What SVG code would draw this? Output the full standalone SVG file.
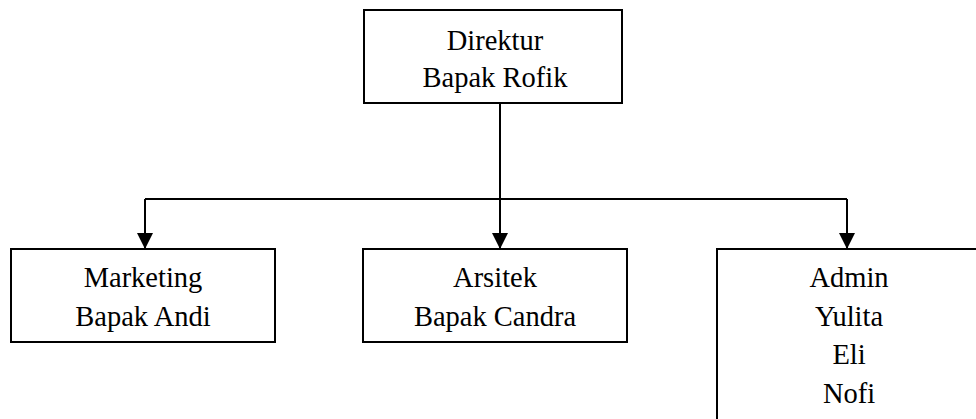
<svg xmlns="http://www.w3.org/2000/svg" width="976" height="419" viewBox="0 0 976 419">
  <style>
    .box { fill: #ffffff; stroke: #000000; stroke-width: 2; }
    .lbl { font-family: "Liberation Serif", "Times New Roman", serif; font-size: 28.5px; fill: #000000; text-anchor: middle; }
    .conn { fill: none; stroke: #000000; stroke-width: 2; }
  </style>
  <defs>
    <marker id="arrow" viewBox="0 0 16 18" refX="16" refY="8" markerWidth="16" markerHeight="18" markerUnits="userSpaceOnUse" orient="auto">
      <path d="M0,0 L16,8 L0,16 Z" fill="#000000"/>
    </marker>
  </defs>
  <rect width="976" height="419" fill="#ffffff"/>
  <g id="connectors">
    <path class="conn" d="M500,103 V249" marker-end="url(#arrow)"/>
    <path class="conn" d="M145,199 H847"/>
    <path class="conn" d="M145,199 V249" marker-end="url(#arrow)"/>
    <path class="conn" d="M847,199 V249" marker-end="url(#arrow)"/>
  </g>
  <g id="direktur">
    <rect class="box" x="364" y="10" width="258" height="93"/>
    <text class="lbl" x="495" y="50">Direktur</text>
    <text class="lbl" x="495" y="87">Bapak Rofik</text>
  </g>
  <g id="marketing">
    <rect class="box" x="11" y="249" width="264" height="93"/>
    <text class="lbl" x="143" y="287">Marketing</text>
    <text class="lbl" x="143" y="326">Bapak Andi</text>
  </g>
  <g id="arsitek">
    <rect class="box" x="363" y="249" width="264" height="93"/>
    <text class="lbl" x="495" y="287">Arsitek</text>
    <text class="lbl" x="495" y="326">Bapak Candra</text>
  </g>
  <g id="admin">
    <rect class="box" x="717" y="249" width="270" height="180"/>
    <text class="lbl" x="849" y="287">Admin</text>
    <text class="lbl" x="849" y="326">Yulita</text>
    <text class="lbl" x="849" y="364">Eli</text>
    <text class="lbl" x="849" y="403">Nofi</text>
  </g>
</svg>
